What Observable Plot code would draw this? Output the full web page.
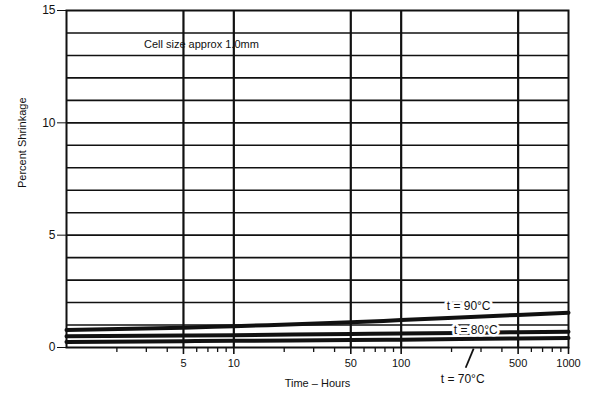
<!DOCTYPE html>
<html>
<head>
<meta charset="utf-8">
<script src="https://cdn.jsdelivr.net/npm/d3@7"></script>
<script src="https://cdn.jsdelivr.net/npm/@observablehq/plot@0.6"></script>
<style>
  html, body { margin: 0; padding: 0; background: #fff; }
  svg { display: block; }
</style>
</head>
<body>
<div id="chart"></div>
<script>
// Data
const hours = [1, 5, 10, 50, 100, 500, 1000];
const shrink90 = [0.78, 0.88, 0.95, 1.12, 1.22, 1.45, 1.55];
const shrink80 = [0.50, 0.53, 0.55, 0.60, 0.62, 0.68, 0.70];
const shrink70 = [0.25, 0.28, 0.30, 0.33, 0.35, 0.40, 0.42];
const seriesNames = ["t = 90°C", "t = 80°C", "t = 70°C"];

const majorXTicks = [5, 10, 50, 100, 500, 1000];
const minorXTicks = [2, 3, 4, 6, 7, 8, 9, 20, 30, 40, 60, 70, 80, 90, 200, 300, 400, 600, 700, 800, 900];
const gridXValues = [5, 10, 50, 100, 500];
const yTicks = [0, 5, 10, 15];
const gridYValues = [1, 2, 3, 4, 5, 6, 7, 8, 9, 10, 11, 12, 13, 14];

const rows = [];
[shrink90, shrink80, shrink70].forEach((arr, i) => {
  hours.forEach((h, j) => rows.push({series: seriesNames[i], hours: h, value: arr[j]}));
});

const font = "'Liberation Sans Narrow', 'Liberation Sans', Arial, sans-serif";

const chart = Plot.plot({
  width: 589,
  height: 400,
  marginLeft: 66,
  marginRight: 21,
  marginTop: 10,
  marginBottom: 53,
  style: {fontFamily: font, fontSize: "11px", color: "#111", background: "#fff"},
  x: {type: "log", domain: [1, 1000]},
  y: {domain: [0, 15]},
  marks: [
    Plot.gridY(gridYValues, {stroke: "#111", strokeOpacity: 1, strokeWidth: 1.6}),
    Plot.gridX(gridXValues, {stroke: "#111", strokeOpacity: 1, strokeWidth: 2.2}),
    Plot.frame({stroke: "#111", strokeWidth: 2}),
    Plot.axisY(yTicks, {tickSize: 9, tickPadding: 2, stroke: "#111", fontSize: 12, label: null}),
    Plot.axisX(majorXTicks, {tickSize: 7, text: null, stroke: "#111", strokeWidth: 1.6, label: null}),
    Plot.text(majorXTicks, {x: d => d, frameAnchor: "bottom", dy: 19, text: d => String(d), fill: "#111", fontSize: 11}),
    Plot.axisX(minorXTicks, {tickSize: 5, text: null, stroke: "#111", strokeWidth: 1.3, label: null}),
    Plot.line(rows, {x: "hours", y: "value", z: "series", stroke: "#111", strokeWidth: 4, curve: "monotone-x"}),
    Plot.text(["t = 90°C"], {x: 253, y: 1.86, text: d => d, fill: "#111", stroke: "white", strokeWidth: 5, paintOrder: "stroke", fontSize: 12}),
    Plot.text(["t = 80°C"], {x: 279, y: 0.76, text: d => d, fill: "#111", stroke: "white", strokeWidth: 5, paintOrder: "stroke", fontSize: 12}),
    Plot.text(["t = 70°C"], {x: 233, y: -1.4, text: d => d, fill: "#111", fontSize: 12}),
    Plot.link([0], {x1: 243, y1: -0.9, x2: 271, y2: -0.05, stroke: "#111", strokeWidth: 1.8}),
    Plot.text(["Cell size approx 1.0mm"], {x: 6.4, y: 13.48, text: d => d, fill: "#111", fontSize: 11}),
    Plot.text(["Time – Hours"], {frameAnchor: "bottom", dy: 39, text: d => d, fill: "#111", fontSize: 11}),
    Plot.text(["Percent Shrinkage"], {frameAnchor: "left", dx: -44, dy: 9, rotate: -90, text: d => d, fill: "#111", fontSize: 11})
  ]
});
document.getElementById("chart").appendChild(chart);
</script>
</body>
</html>
